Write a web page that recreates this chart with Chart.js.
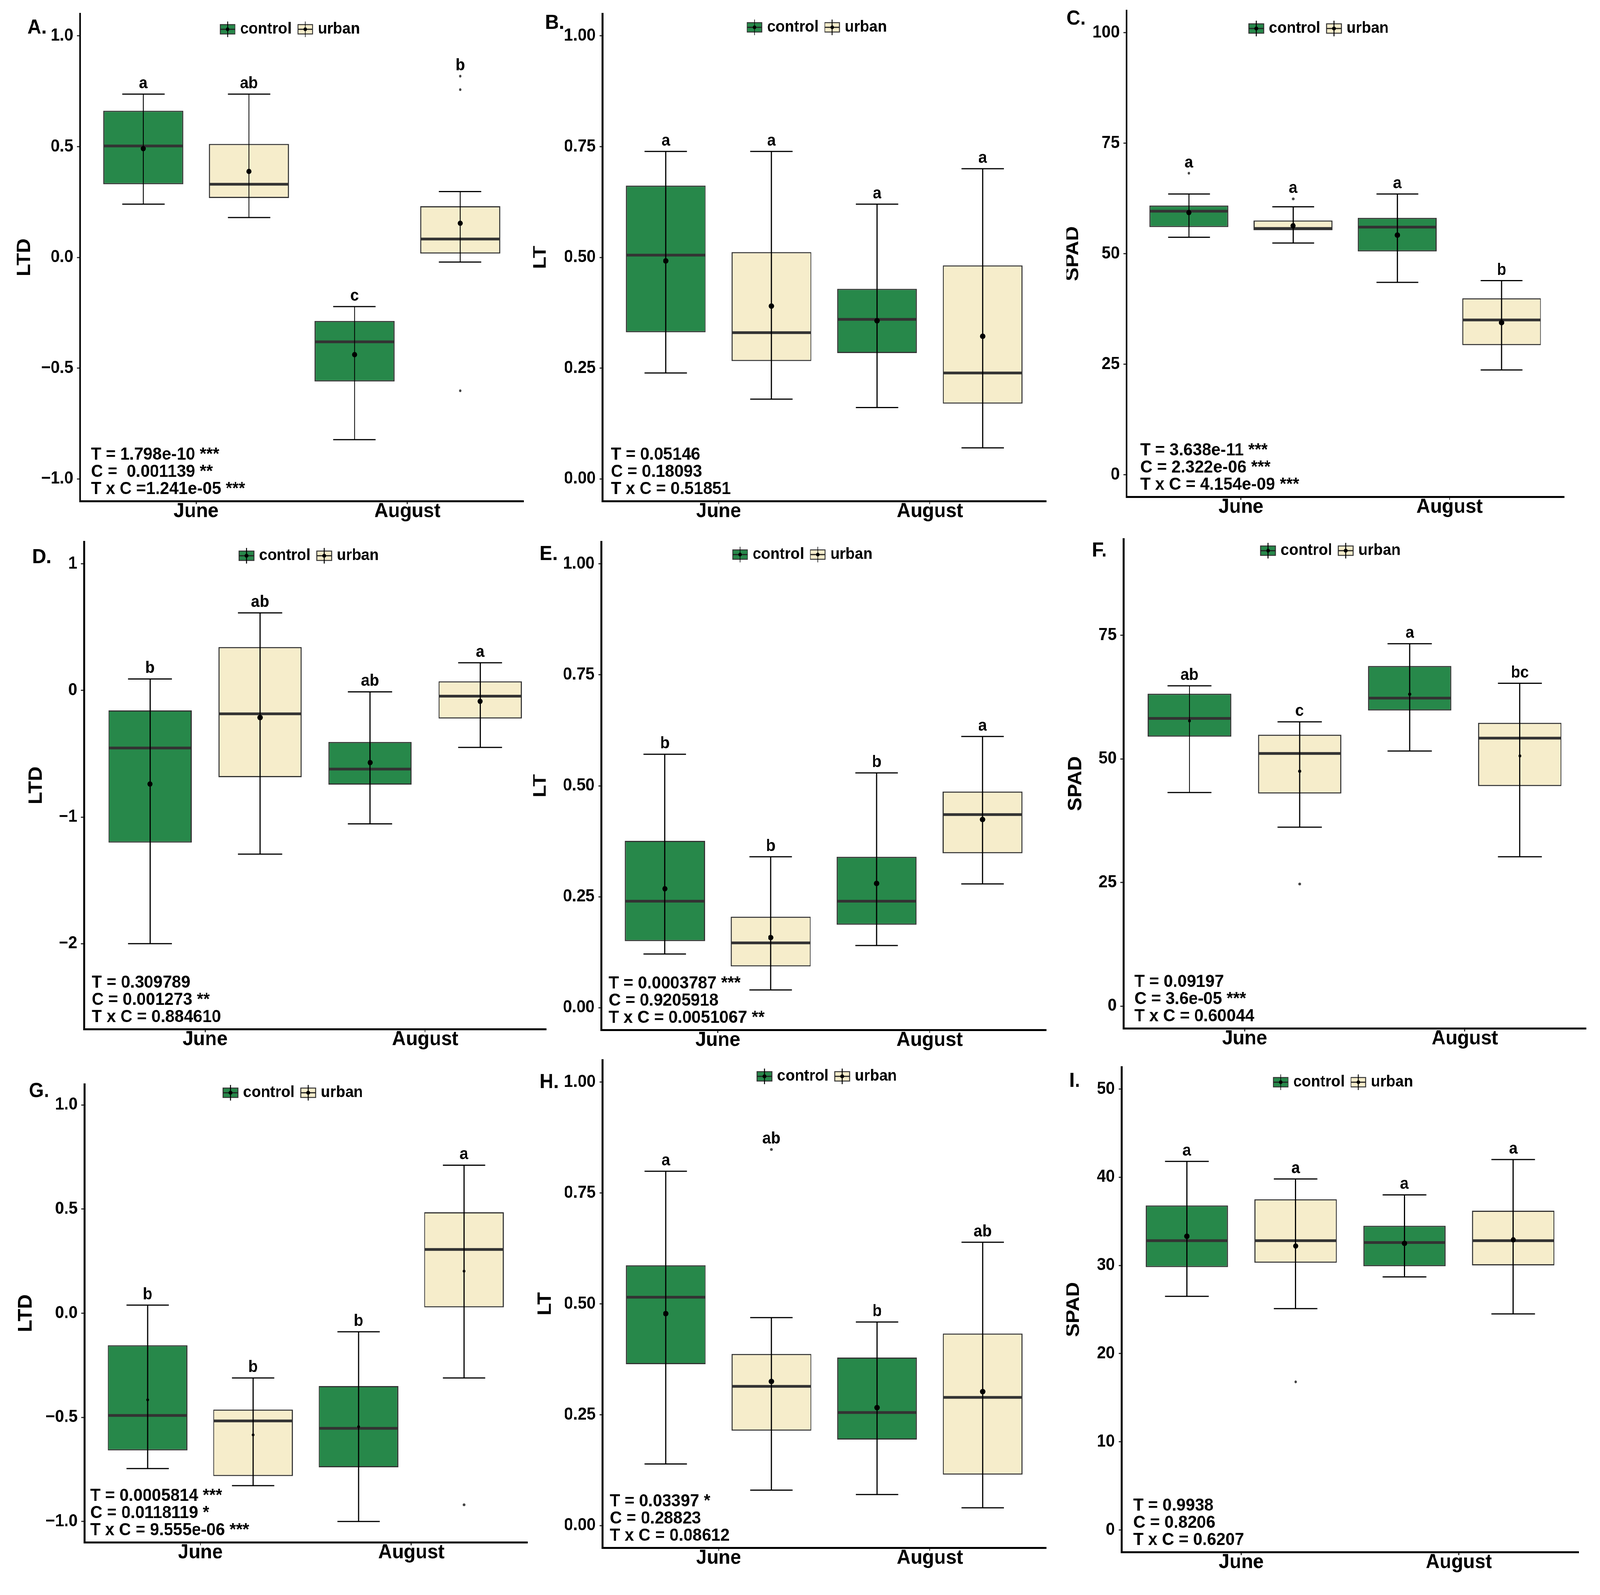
<!DOCTYPE html>
<html>
<head>
<meta charset="utf-8">
<script src="https://cdn.jsdelivr.net/npm/chart.js@4.4.0/dist/chart.umd.min.js"></script>
<style>
html, body { margin: 0; padding: 0; background: #fff; overflow: hidden; }
#page { position: relative; width: 4324px; height: 4084px; overflow: hidden; background: #fff; transform-origin: 0 0; }
#page canvas { position: absolute; }
</style>
</head>
<body>
<div id="page"></div>
<script>
// every value array is ordered: June control, June urban, August control, August urban
const months = ['June', 'August'];
const groups = ['control', 'urban'];

// A. LTD
const aLow = [0.240, 0.180, -0.823, -0.021];
const aQ1 = [0.330, 0.268, -0.560, 0.017];
const aMed = [0.503, 0.330, -0.381, 0.083];
const aQ3 = [0.662, 0.512, -0.287, 0.231];
const aHigh = [0.737, 0.737, -0.222, 0.297];
const aMean = [0.491, 0.388, -0.439, 0.154];
const aOut = [[], [], [], [0.818, 0.757, -0.602]];
const aLetters = ['a', 'ab', 'c', 'b'];
const aStats = ['T = 1.798e-10 ***', 'C =  0.001139 **', 'T x C =1.241e-05 ***'];

// B. LT
const bLow = [0.239, 0.180, 0.161, 0.070];
const bQ1 = [0.331, 0.266, 0.284, 0.170];
const bMed = [0.505, 0.330, 0.360, 0.239];
const bQ3 = [0.662, 0.512, 0.429, 0.482];
const bHigh = [0.739, 0.739, 0.620, 0.700];
const bMean = [0.492, 0.390, 0.357, 0.322];
const bOut = [[], [], [], []];
const bLetters = ['a', 'a', 'a', 'a'];
const bStats = ['T = 0.05146', 'C = 0.18093', 'T x C = 0.51851'];

// C. SPAD
const cLow = [53.7, 52.4, 43.5, 23.7];
const cQ1 = [56.0, 55.3, 50.5, 29.3];
const cMed = [59.6, 55.7, 56.0, 35.0];
const cQ3 = [60.9, 57.5, 58.1, 39.9];
const cHigh = [63.5, 60.6, 63.5, 43.9];
const cMean = [59.3, 56.3, 54.2, 34.4];
const cOut = [[68.2], [62.4], [], []];
const cLetters = ['a', 'a', 'a', 'b'];
const cStats = ['T = 3.638e-11 ***', 'C = 2.322e-06 ***', 'T x C = 4.154e-09 ***'];

// D. LTD
const dLow = [-2.0, -1.293, -1.054, -0.450];
const dQ1 = [-1.202, -0.685, -0.744, -0.222];
const dMed = [-0.455, -0.185, -0.621, -0.045];
const dQ3 = [-0.158, 0.343, -0.407, 0.072];
const dHigh = [0.091, 0.613, -0.011, 0.219];
const dMean = [-0.739, -0.214, -0.570, -0.086];
const dOut = [[], [], [], []];
const dLetters = ['b', 'ab', 'ab', 'a'];
const dStats = ['T = 0.309789', 'C = 0.001273 **', 'T x C = 0.884610'];

// E. LT
const eLow = [0.121, 0.040, 0.140, 0.279];
const eQ1 = [0.150, 0.093, 0.187, 0.348];
const eMed = [0.240, 0.146, 0.240, 0.435];
const eQ3 = [0.376, 0.205, 0.340, 0.487];
const eHigh = [0.571, 0.340, 0.529, 0.611];
const eMean = [0.268, 0.158, 0.280, 0.424];
const eOut = [[], [], [], []];
const eLetters = ['b', 'b', 'b', 'a'];
const eStats = ['T = 0.0003787 ***', 'C = 0.9205918', 'T x C = 0.0051067 **'];

// F. SPAD
const fLow = [43.2, 36.2, 51.6, 30.2];
const fQ1 = [54.5, 43.0, 59.8, 44.5];
const fMed = [58.2, 51.1, 62.3, 54.2];
const fQ3 = [63.2, 54.9, 68.8, 57.3];
const fHigh = [64.8, 57.5, 73.3, 65.3];
const fMean = [57.7, 47.5, 63.1, 50.6];
const fOut = [[], [24.7], [], []];
const fLetters = ['ab', 'c', 'a', 'bc'];
const fStats = ['T = 0.09197', 'C = 3.6e-05 ***', 'T x C = 0.60044'];

// G. LTD
const gLow = [-0.746, -0.828, -1.0, -0.311];
const gQ1 = [-0.659, -0.782, -0.740, 0.028];
const gMed = [-0.491, -0.517, -0.553, 0.306];
const gQ3 = [-0.154, -0.463, -0.350, 0.485];
const gHigh = [0.039, -0.311, -0.089, 0.711];
const gMean = [-0.416, -0.584, -0.545, 0.202];
const gOut = [[], [], [], [-0.920]];
const gLetters = ['b', 'b', 'b', 'a'];
const gStats = ['T = 0.0005814 ***', 'C = 0.0118119 *', 'T x C = 9.555e-06 ***'];

// H. LT
const hLow = [0.139, 0.080, 0.070, 0.040];
const hQ1 = [0.364, 0.214, 0.194, 0.115];
const hMed = [0.515, 0.314, 0.255, 0.289];
const hQ3 = [0.587, 0.387, 0.379, 0.433];
const hHigh = [0.799, 0.469, 0.459, 0.639];
const hMean = [0.478, 0.325, 0.266, 0.302];
const hOut = [[], [0.848], [], []];
const hLetters = ['a', 'ab', 'b', 'ab'];
const hStats = ['T = 0.03397 *', 'C = 0.28823', 'T x C = 0.08612'];

// I. SPAD
const iLow = [26.5, 25.1, 28.7, 24.5];
const iQ1 = [29.8, 30.3, 29.9, 30.0];
const iMed = [32.8, 32.8, 32.6, 32.8];
const iQ3 = [36.8, 37.5, 34.5, 36.2];
const iHigh = [41.8, 39.8, 38.0, 42.0];
const iMean = [33.3, 32.2, 32.5, 32.9];
const iOut = [[], [16.8], [], []];
const iLetters = ['a', 'a', 'a', 'a'];
const iStats = ['T = 0.9938', 'C = 0.8206', 'T x C = 0.6207'];

// y tick values
const ltdTicks = [-1.0, -0.5, 0.0, 0.5, 1.0];
const ltdTicksD = [-2, -1, 0, 1];
const ltTicks = [0.00, 0.25, 0.50, 0.75, 1.00];
const spadTicks = [0, 25, 50, 75, 100];
const spadTicksF = [0, 25, 50, 75];
const spadTicksI = [0, 10, 20, 30, 40, 50];

const panels = [
  { tag: 'A.', title: 'LTD', low: aLow, q1: aQ1, med: aMed, q3: aQ3, high: aHigh, mean: aMean, out: aOut, letters: aLetters, stats: aStats, ticks: ltdTicks, dec: 1, ylim: [-1.1, 1.1], meanR: 7 },
  { tag: 'B.', title: 'LT', low: bLow, q1: bQ1, med: bMed, q3: bQ3, high: bHigh, mean: bMean, out: bOut, letters: bLetters, stats: bStats, ticks: ltTicks, dec: 2, ylim: [-0.05, 1.05], meanR: 7 },
  { tag: 'C.', title: 'SPAD', low: cLow, q1: cQ1, med: cMed, q3: cQ3, high: cHigh, mean: cMean, out: cOut, letters: cLetters, stats: cStats, ticks: spadTicks, dec: 0, ylim: [-5, 105], meanR: 7 },
  { tag: 'D.', title: 'LTD', low: dLow, q1: dQ1, med: dMed, q3: dQ3, high: dHigh, mean: dMean, out: dOut, letters: dLetters, stats: dStats, ticks: ltdTicksD, dec: 0, ylim: [-2.675, 1.175], meanR: 7 },
  { tag: 'E.', title: 'LT', low: eLow, q1: eQ1, med: eMed, q3: eQ3, high: eHigh, mean: eMean, out: eOut, letters: eLetters, stats: eStats, ticks: ltTicks, dec: 2, ylim: [-0.05, 1.05], meanR: 7 },
  { tag: 'F.', title: 'SPAD', low: fLow, q1: fQ1, med: fMed, q3: fQ3, high: fHigh, mean: fMean, out: fOut, letters: fLetters, stats: fStats, ticks: spadTicksF, dec: 0, ylim: [-4.5, 94.5], meanR: 4 },
  { tag: 'G.', title: 'LTD', low: gLow, q1: gQ1, med: gMed, q3: gQ3, high: gHigh, mean: gMean, out: gOut, letters: gLetters, stats: gStats, ticks: ltdTicks, dec: 1, ylim: [-1.1, 1.1], meanR: 3.5 },
  { tag: 'H.', title: 'LT', low: hLow, q1: hQ1, med: hMed, q3: hQ3, high: hHigh, mean: hMean, out: hOut, letters: hLetters, stats: hStats, ticks: ltTicks, dec: 2, ylim: [-0.05, 1.05], meanR: 7 },
  { tag: 'I.', title: 'SPAD', low: iLow, q1: iQ1, med: iMed, q3: iQ3, high: iHigh, mean: iMean, out: iOut, letters: iLetters, stats: iStats, ticks: spadTicksI, dec: 0, ylim: [-2.5, 52.5], meanR: 7 }
];

// panel placement (pixels inside each grid cell)
const layout = [
  { cell: [0, 0], plot: [216, 35, 1415, 1283], legend: [784, 75], tag: [74, 72], titleX: 67, statsX: 30 },
  { cell: [1, 0], plot: [187, 35, 1386, 1283], legend: [767, 70], tag: [32, 60], titleX: 20, statsX: 23 },
  { cell: [2, 0], plot: [162, 27, 1345, 1272], legend: [682, 73], tag: [0, 49], titleX: 18, statsX: 38 },
  { cell: [0, 1], plot: [227, 26, 1476, 1274], legend: [835, 62], tag: [87, 67], titleX: 99, statsX: 21 },
  { cell: [1, 1], plot: [184, 26, 1386, 1276], legend: [728, 59], tag: [17, 59], titleX: 20, statsX: 20 },
  { cell: [2, 1], plot: [154, 19, 1404, 1272], legend: [714, 49], tag: [69, 50], titleX: 26, statsX: 30 },
  { cell: [0, 2], plot: [228, 54, 1425, 1227], legend: [792, 76], tag: [78, 73], titleX: 71, statsX: 16 },
  { cell: [1, 2], plot: [187, -8, 1386, 1241], legend: [794, 34], tag: [17, 50], titleX: 34, statsX: 20 },
  { cell: [2, 2], plot: [149, 10, 1384, 1252], legend: [748, 49], tag: [8, 47], titleX: 20, statsX: 32 }
];

const fills = ['#27884a', '#f6edcb'];
const FONT = "'Liberation Sans', Arial, Helvetica, sans-serif";
const cellW = 1441, cellH = 1361, padTop = 60, canvasH = 1560, axisH = 100;
const page = document.getElementById('page');

// fit the 4324x4084 drawing into whatever viewport the browser really has
const sx = (window.innerWidth || 4324) / 4324, sy = (window.innerHeight || 4084) / 4084;
page.style.transform = 'scale(' + sx + ',' + sy + ')';

function fmtTick(v, dec) {
  return (v < 0 ? '\u2212' : '') + Math.abs(v).toFixed(dec);
}

function line(ctx, x1, y1, x2, y2) {
  ctx.beginPath();
  ctx.moveTo(x1, y1);
  ctx.lineTo(x2, y2);
  ctx.stroke();
}

function legendKey(ctx, x, cy, fill) {
  const w = 40, h = 24;
  ctx.fillStyle = fill;
  ctx.fillRect(x, cy - h / 2, w, h);
  ctx.strokeStyle = '#333';
  ctx.lineWidth = 2.5;
  ctx.strokeRect(x, cy - h / 2, w, h);
  ctx.strokeStyle = '#000';
  ctx.lineWidth = 2.5;
  line(ctx, x + w / 2, cy - 20, x + w / 2, cy + 20);
  ctx.strokeStyle = '#222';
  ctx.lineWidth = 3;
  line(ctx, x, cy, x + w, cy);
  ctx.fillStyle = '#000';
  ctx.beginPath();
  ctx.arc(x + w / 2, cy, 5, 0, Math.PI * 2);
  ctx.fill();
}

function boxExtras(p, lay) {
  return {
    id: 'boxExtras',
    afterDatasetsDraw(chart) {
      const ctx = chart.ctx, y = chart.scales.y;
      ctx.save();
      chart.data.datasets.forEach((ds, d) => {
        chart.getDatasetMeta(d).data.forEach((bar, m) => {
          const k = m * 2 + d;
          const x = bar.x, w = bar.width;
          // median
          ctx.strokeStyle = '#333';
          ctx.lineWidth = 7;
          line(ctx, x - w / 2 + 2, y.getPixelForValue(p.med[k]), x + w / 2 - 2, y.getPixelForValue(p.med[k]));
          // whiskers with caps
          const yl = y.getPixelForValue(p.low[k]), yh = y.getPixelForValue(p.high[k]);
          const cap = w * 0.53;
          ctx.strokeStyle = '#000';
          ctx.lineWidth = 3;
          line(ctx, x, yl, x, yh);
          line(ctx, x - cap / 2, yl, x + cap / 2, yl);
          line(ctx, x - cap / 2, yh, x + cap / 2, yh);
          // mean
          ctx.fillStyle = '#000';
          ctx.beginPath();
          ctx.arc(x, y.getPixelForValue(p.mean[k]), p.meanR, 0, Math.PI * 2);
          ctx.fill();
          // outliers
          ctx.fillStyle = '#444';
          p.out[k].forEach(v => {
            ctx.beginPath();
            ctx.arc(x, y.getPixelForValue(v), 3.5, 0, Math.PI * 2);
            ctx.fill();
          });
          // group letter above the highest mark
          const top = Math.max(p.high[k], ...p.out[k]);
          ctx.fillStyle = '#000';
          ctx.font = 'bold 42px ' + FONT;
          ctx.textAlign = 'center';
          ctx.textBaseline = 'alphabetic';
          ctx.fillText(p.letters[k], x, y.getPixelForValue(top) - 15);
        });
      });
      ctx.restore();
    },
    afterDraw(chart) {
      const ctx = chart.ctx, area = chart.chartArea;
      ctx.save();
      ctx.fillStyle = '#000';
      // panel tag
      ctx.font = 'bold 52px ' + FONT;
      ctx.textAlign = 'left';
      ctx.textBaseline = 'middle';
      ctx.fillText(p.tag, lay.tag[0], lay.tag[1] + padTop);
      // y title
      ctx.save();
      ctx.translate(lay.titleX, (area.top + area.bottom) / 2);
      ctx.rotate(-Math.PI / 2);
      ctx.font = 'bold 52px ' + FONT;
      ctx.textAlign = 'center';
      ctx.textBaseline = 'middle';
      ctx.fillText(p.title, 0, 0);
      ctx.restore();
      // stats text
      ctx.font = 'bold 45px ' + FONT;
      ctx.textAlign = 'left';
      ctx.textBaseline = 'middle';
      p.stats.forEach((s, i) => {
        ctx.fillText(s, area.left + lay.statsX, area.bottom - 30 - (p.stats.length - 1 - i) * 44);
      });
      // legend
      ctx.font = 'bold 41px ' + FONT;
      const keyW = 40, gap1 = 14, gap2 = 17;
      const tw = groups.map(g => ctx.measureText(g).width);
      const total = keyW + gap1 + tw[0] + gap2 + keyW + gap1 + tw[1];
      let lx = lay.legend[0] - total / 2;
      const ly = lay.legend[1] + padTop;
      groups.forEach((g, i) => {
        legendKey(ctx, lx, ly, fills[i]);
        lx += keyW + gap1;
        ctx.fillStyle = '#000';
        ctx.textAlign = 'left';
        ctx.textBaseline = 'middle';
        ctx.fillText(g, lx, ly);
        lx += tw[i] + gap2;
      });
      ctx.restore();
    }
  };
}

panels.forEach((p, n) => {
  const lay = layout[n];
  const left = lay.cell[0] * cellW, top = lay.cell[1] * cellH - padTop;
  const W = Math.min(1500, 4324 - left);
  const cv = document.createElement('canvas');
  cv.width = W;
  cv.height = canvasH;
  cv.style.left = left + 'px';
  cv.style.top = top + 'px';
  cv.style.width = W + 'px';
  cv.style.height = canvasH + 'px';
  page.appendChild(cv);

  const [pl, pt, pr, pb] = lay.plot;
  const datasets = groups.map((g, d) => ({
    label: g,
    data: months.map((mo, m) => ({ x: m + 1, y: [p.q1[m * 2 + d], p.q3[m * 2 + d]] })),
    backgroundColor: fills[d],
    borderColor: '#333',
    borderWidth: 3,
    borderSkipped: false,
    categoryPercentage: 1.0,
    barPercentage: 0.757
  }));

  new Chart(cv, {
    type: 'bar',
    data: { datasets },
    options: {
      responsive: false,
      animation: false,
      layout: { padding: { left: 0, top: pt + padTop, right: W - pr, bottom: canvasH - (pb + padTop) - axisH } },
      plugins: { legend: { display: false }, tooltip: { enabled: false } },
      scales: {
        x: {
          type: 'linear',
          min: 0.45,
          max: 2.55,
          bounds: 'data',
          offset: false,
          afterBuildTicks: s => { s.ticks = months.map((mo, m) => ({ value: m + 1 })); },
          afterFit: s => { s.height = axisH; },
          ticks: {
            callback: v => months[Math.round(v) - 1],
            color: '#000',
            padding: 0,
            maxRotation: 0,
            autoSkip: false,
            font: { family: FONT, size: 52, weight: 'bold', lineHeight: 0.7 }
          },
          grid: { display: true, offset: false, drawOnChartArea: false, drawTicks: true, tickLength: 8, tickWidth: 3, tickColor: '#333' },
          border: { display: true, color: '#000', width: 5 }
        },
        y: {
          type: 'linear',
          min: p.ylim[0],
          max: p.ylim[1],
          bounds: 'data',
          afterBuildTicks: s => { s.ticks = p.ticks.map(v => ({ value: v })); },
          afterFit: s => { s.width = pl; },
          ticks: {
            callback: v => fmtTick(v, p.dec),
            color: '#000',
            padding: 10,
            font: { family: FONT, size: 44, weight: 'bold' }
          },
          grid: { display: true, drawOnChartArea: false, drawTicks: true, tickLength: 8, tickWidth: 3, tickColor: '#333' },
          border: { display: true, color: '#000', width: 5 }
        }
      }
    },
    plugins: [boxExtras(p, lay)]
  });
});
</script>
</body>
</html>
